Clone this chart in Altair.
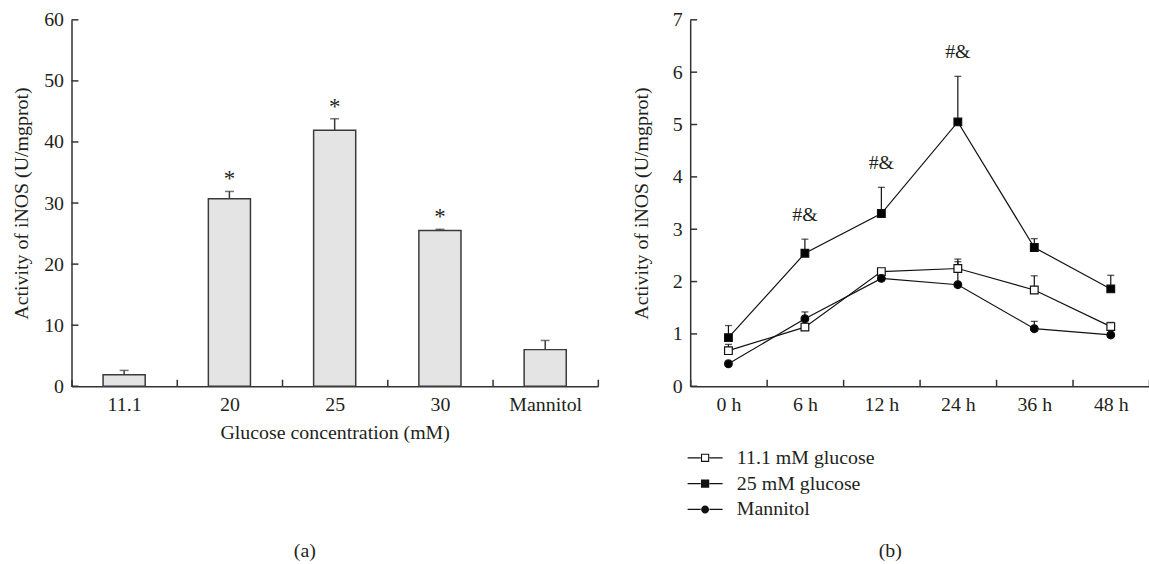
import altair as alt
import pandas as pd

# ---------- data: panel (a) ----------
conc = ["11.1", "20", "25", "30", "Mannitol"]
bar_mean = [1.9, 30.7, 41.9, 25.5, 6.0]
bar_upper = [2.6, 31.9, 43.8, 25.7, 7.5]
bar_sig = ["", "*", "*", "*", ""]
yticks_a = [0, 10, 20, 30, 40, 50, 60]

# ---------- data: panel (b) ----------
times = ["0 h", "6 h", "12 h", "24 h", "36 h", "48 h"]
series_names = ["11.1 mM glucose", "25 mM glucose", "Mannitol"]
g11_mean = [0.68, 1.13, 2.19, 2.25, 1.84, 1.14]
g11_upper = [0.80, 1.20, 2.22, 2.43, 2.11, 1.22]
g25_mean = [0.93, 2.54, 3.30, 5.05, 2.65, 1.86]
g25_upper = [1.16, 2.81, 3.80, 5.92, 2.82, 2.12]
man_mean = [0.43, 1.29, 2.06, 1.94, 1.10, 0.98]
man_upper = [0.45, 1.42, 2.08, 2.38, 1.24, 1.00]
g25_sig = ["", "#&", "#&", "#&", "", ""]
yticks_b = [0, 1, 2, 3, 4, 5, 6, 7]

FONT = "Liberation Serif"
INK = "#231f20"
AX = "#333333"
FS = 20
H = 369
TICK = 7

df_a = pd.DataFrame({"conc": conc, "mean": bar_mean, "upper": bar_upper, "sig": bar_sig})

rows = []
for name, m, u in zip(series_names, [g11_mean, g25_mean, man_mean], [g11_upper, g25_upper, man_upper]):
    for i, t in enumerate(times):
        rows.append({"series": name, "time": t, "mean": m[i], "upper": u[i],
                     "sig": g25_sig[i] if name == "25 mM glucose" else "",
                     "shape": "circle" if name == "Mannitol" else "square",
                     "fillc": "white" if name == "11.1 mM glucose" else "black"})
df_b = pd.DataFrame(rows)

def yaxis(vals, tp):
    return alt.Axis(values=vals, format="d", title="Activity of iNOS (U/mgprot)", titlePadding=tp,
                    grid=False)

def xaxis(title):
    # inward ticks at band boundaries: grid lines dashed so only the bottom stub shows
    return alt.Axis(title=title, tickBand="extent", labelAngle=0, grid=True, titlePadding=9,
                    gridDash=[0, H - TICK, TICK, 2000])

def inward_yticks(vals, scale):
    d = pd.DataFrame({"v": vals})
    return alt.Chart(d).mark_rule(color=AX, strokeWidth=1.5).encode(
        y=alt.Y("v:Q", scale=scale), x=alt.value(0), x2=alt.value(TICK))

# ---------- panel (a) ----------
xa = alt.X("conc:N", sort=conc, scale=alt.Scale(paddingInner=0, paddingOuter=0),
           axis=xaxis("Glucose concentration (mM)"))
ya_scale = alt.Scale(domain=[0, 60], nice=False)
base_a = alt.Chart(df_a).encode(x=xa)
bars = base_a.mark_bar(width=alt.RelativeBandSize(0.4), fill="#e4e4e4", stroke="#3a3a3a",
                       strokeWidth=1.5).encode(
    y=alt.Y("mean:Q", scale=ya_scale, axis=yaxis(yticks_a, 12)))
err_a = base_a.mark_rule(color="#3a3a3a", strokeWidth=1.5).encode(
    y=alt.Y("mean:Q", scale=ya_scale, axis=yaxis(yticks_a, 12)), y2="upper:Q")
cap_a = base_a.mark_tick(size=9, thickness=1.5, color="#3a3a3a").encode(
    y=alt.Y("upper:Q", scale=ya_scale))
star_a = base_a.mark_text(dy=-12, fontSize=23, font=FONT, color=INK, baseline="middle").encode(
    y=alt.Y("upper:Q", scale=ya_scale), text="sig:N")
panel_a = alt.layer(err_a, cap_a, bars, star_a, inward_yticks(yticks_a, ya_scale)).properties(
    width=530, height=H,
    title=alt.TitleParams("(a)", orient="bottom", anchor="middle", frame="bounds",
                          fontSize=FS, font=FONT, fontWeight="normal", color=INK, offset=99))

# ---------- panel (b) ----------
xb = alt.X("time:N", sort=times, scale=alt.Scale(paddingInner=0, paddingOuter=0),
           axis=xaxis(None))
yb_scale = alt.Scale(domain=[0, 7], nice=False)
base_b = alt.Chart(df_b).encode(x=xb)
lines = base_b.mark_line(color="#111111", strokeWidth=1.2).encode(
    y=alt.Y("mean:Q", scale=yb_scale, axis=yaxis(yticks_b, 21)), detail="series:N")
err_b = base_b.mark_rule(color="#111111", strokeWidth=1.2).encode(
    y=alt.Y("mean:Q", scale=yb_scale), y2="upper:Q")
cap_b = base_b.mark_tick(size=7, thickness=1.3, color="#111111").encode(
    y=alt.Y("upper:Q", scale=yb_scale))
pts = base_b.mark_point(filled=True, stroke="#111111", strokeWidth=1.2, opacity=1).encode(
    y=alt.Y("mean:Q", scale=yb_scale),
    shape=alt.Shape("shape:N", scale=None, legend=None),
    fill=alt.Fill("fillc:N", scale=None, legend=None),
    size=alt.value(60))
ann = base_b.mark_text(dy=-24, fontSize=FS, font=FONT, color=INK, baseline="middle").encode(
    y=alt.Y("upper:Q", scale=yb_scale), text="sig:N")

# legend symbols: line stubs drawn as thin filled bars, marker as filled shape
stub = "M-2.2,-0.08H-0.55V0.08H-2.2ZM0.55,-0.08H2.2V0.08H0.55Z"
sq = "M-0.52,-0.52H0.52V0.52H-0.52Z"
sq_hole = "M-0.38,-0.38V0.38H0.38V-0.38Z"
circ = "M-0.5,0A0.5,0.5 0 1,0 0.5,0A0.5,0.5 0 1,0 -0.5,0Z"
leg_shapes = [stub + sq + sq_hole, stub + sq, stub + circ]
leg = alt.Legend(orient="none", legendX=5, legendY=431, title=None, symbolSize=256,
                 symbolFillColor="#111111", symbolStrokeWidth=0, symbolOpacity=1, labelOffset=22,
                 labelFont=FONT, labelFontSize=FS, labelColor=INK, rowPadding=6, padding=0)
legend_layer = base_b.mark_point(filled=True, color="#111111", opacity=1, size=256).encode(
    y=alt.Y("mean:Q", scale=yb_scale),
    shape=alt.Shape("series:N", scale=alt.Scale(domain=series_names, range=leg_shapes), legend=leg),
).transform_filter("false")

panel_b = alt.layer(lines, err_b, cap_b, pts, ann, inward_yticks(yticks_b, yb_scale),
                    legend_layer).resolve_scale(shape="independent").properties(
    width=462, height=H,
    title=alt.TitleParams("(b)", orient="bottom", anchor="middle", frame="bounds",
                          fontSize=FS, font=FONT, fontWeight="normal", color=INK, offset=22))

chart = alt.hconcat(panel_a, panel_b, spacing=34).properties(
    padding={"left": 12, "top": 8, "right": 0, "bottom": 0}
).configure_view(stroke=None).configure_axis(
    labelFont=FONT, labelFontSize=FS, labelColor=INK, labelPadding=8,
    titleFont=FONT, titleFontSize=FS, titleFontWeight="normal", titleColor=INK,
    domainColor=AX, domainWidth=1.5, ticks=False,
    gridColor=AX, gridWidth=1.5, gridOpacity=1,
).configure_concat(spacing=34)

chart.save("out.html", embed_options={"renderer": "svg", "actions": False})
